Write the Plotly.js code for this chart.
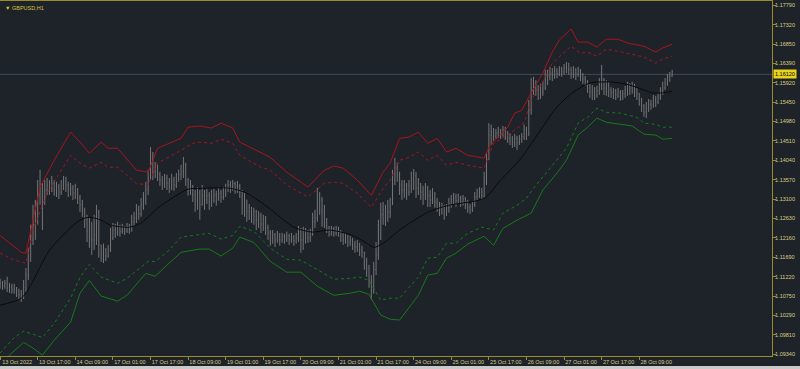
<!DOCTYPE html>
<html>
<head>
<meta charset="utf-8">
<script src="https://cdn.plot.ly/plotly-3.0.1.min.js"></script>
<style>html,body{margin:0;padding:0;background:#1e232a;}#chart{width:800px;height:369px;}</style>
</head>
<body>
<div id="chart"></div>
<script>
// ---- Data: GBPUSD H1, bar index 0..286 ----
const tickIdx = [0,16,32,48,64,80,96,112,128,144,160,176,192,208,224,240,256,272];
const tickText = ['13 Oct 2022','13 Oct 17:00','14 Oct 09:00','17 Oct 01:00','17 Oct 17:00','18 Oct 09:00','19 Oct 01:00','19 Oct 17:00','20 Oct 09:00','21 Oct 01:00','21 Oct 17:00','24 Oct 09:00','25 Oct 01:00','25 Oct 17:00','26 Oct 09:00','27 Oct 01:00','27 Oct 17:00','28 Oct 09:00'];
const priceTicks = [1.1779,1.1732,1.1685,1.1639,1.1592,1.1545,1.1498,1.1451,1.1404,1.1357,1.1310,1.1263,1.1216,1.1169,1.1122,1.1075,1.1029,1.0981,1.0934];

const closes = [1.1105,1.1100,1.1107,1.1095,1.1097,1.1090,1.1093,1.1083,1.1078,1.1073,
1.1095,1.1126,1.1175,1.1211,1.1248,1.1272,1.1320,1.1337,1.1308,1.1332,
1.1344,1.1337,1.1349,1.1332,1.1339,1.1327,1.1342,1.1352,1.1344,1.1332,
1.1337,1.1325,1.1332,1.1313,1.1296,1.1284,1.1260,1.1231,1.1240,1.1211,
1.1223,1.1279,1.1199,1.1175,1.1187,1.1172,1.1187,1.1216,1.1235,1.1228,
1.1240,1.1231,1.1238,1.1233,1.1243,1.1238,1.1255,1.1264,1.1284,1.1274,
1.1296,1.1308,1.1332,1.1361,1.1405,1.1376,1.1385,1.1369,1.1356,1.1347,
1.1361,1.1349,1.1339,1.1356,1.1344,1.1361,1.1369,1.1376,1.1393,1.1356,
1.1332,1.1342,1.1320,1.1308,1.1325,1.1296,1.1320,1.1308,1.1318,1.1303,
1.1313,1.1320,1.1310,1.1323,1.1315,1.1327,1.1335,1.1344,1.1337,1.1347,
1.1335,1.1342,1.1327,1.1296,1.1308,1.1279,1.1289,1.1272,1.1279,1.1260,
1.1269,1.1250,1.1260,1.1240,1.1228,1.1216,1.1223,1.1211,1.1221,1.1211,
1.1219,1.1214,1.1221,1.1211,1.1219,1.1209,1.1216,1.1231,1.1211,1.1221,
1.1231,1.1216,1.1226,1.1255,1.1264,1.1296,1.1308,1.1279,1.1260,1.1240,
1.1233,1.1238,1.1228,1.1235,1.1231,1.1221,1.1211,1.1219,1.1206,1.1211,
1.1199,1.1194,1.1202,1.1187,1.1182,1.1158,1.1143,1.1114,1.1090,1.1139,
1.1175,1.1223,1.1272,1.1284,1.1264,1.1279,1.1296,1.1356,1.1385,1.1369,
1.1344,1.1332,1.1344,1.1327,1.1342,1.1356,1.1366,1.1337,1.1347,1.1327,
1.1320,1.1337,1.1318,1.1308,1.1323,1.1303,1.1294,1.1284,1.1291,1.1279,
1.1289,1.1298,1.1308,1.1315,1.1306,1.1313,1.1303,1.1310,1.1298,1.1289,
1.1284,1.1296,1.1315,1.1320,1.1327,1.1318,1.1356,1.1405,1.1465,1.1473,
1.1463,1.1470,1.1475,1.1465,1.1477,1.1468,1.1458,1.1453,1.1446,1.1456,
1.1448,1.1453,1.1461,1.1477,1.1468,1.1526,1.1579,1.1586,1.1574,1.1562,
1.1569,1.1579,1.1598,1.1608,1.1615,1.1608,1.1620,1.1613,1.1623,1.1618,
1.1627,1.1632,1.1623,1.1615,1.1623,1.1613,1.1620,1.1611,1.1601,1.1594,
1.1579,1.1569,1.1574,1.1562,1.1572,1.1586,1.1598,1.1579,1.1589,1.1574,
1.1567,1.1572,1.1562,1.1569,1.1560,1.1565,1.1574,1.1584,1.1579,1.1586,
1.1574,1.1565,1.1550,1.1536,1.1521,1.1531,1.1540,1.1536,1.1550,1.1545,
1.1557,1.1569,1.1579,1.1589,1.1598,1.1608,1.1612];

const opens = [1.1110,1.1105,1.1100,1.1107,1.1095,1.1097,1.1090,1.1093,1.1083,1.1078,
1.1073,1.1095,1.1126,1.1175,1.1211,1.1248,1.1272,1.1320,1.1337,1.1308,
1.1332,1.1344,1.1337,1.1349,1.1332,1.1339,1.1327,1.1342,1.1352,1.1344,
1.1332,1.1337,1.1325,1.1332,1.1313,1.1296,1.1284,1.1260,1.1231,1.1240,
1.1211,1.1223,1.1279,1.1199,1.1175,1.1187,1.1172,1.1187,1.1216,1.1235,
1.1228,1.1240,1.1231,1.1238,1.1233,1.1243,1.1238,1.1255,1.1264,1.1284,
1.1274,1.1296,1.1308,1.1332,1.1361,1.1405,1.1376,1.1385,1.1369,1.1356,
1.1347,1.1361,1.1349,1.1339,1.1356,1.1344,1.1361,1.1369,1.1376,1.1393,
1.1356,1.1332,1.1342,1.1320,1.1308,1.1325,1.1296,1.1320,1.1308,1.1318,
1.1303,1.1313,1.1320,1.1310,1.1323,1.1315,1.1327,1.1335,1.1344,1.1337,
1.1347,1.1335,1.1342,1.1327,1.1296,1.1308,1.1279,1.1289,1.1272,1.1279,
1.1260,1.1269,1.1250,1.1260,1.1240,1.1228,1.1216,1.1223,1.1211,1.1221,
1.1211,1.1219,1.1214,1.1221,1.1211,1.1219,1.1209,1.1216,1.1231,1.1211,
1.1221,1.1231,1.1216,1.1226,1.1255,1.1264,1.1296,1.1308,1.1279,1.1260,
1.1240,1.1233,1.1238,1.1228,1.1235,1.1231,1.1221,1.1211,1.1219,1.1206,
1.1211,1.1199,1.1194,1.1202,1.1187,1.1182,1.1158,1.1143,1.1114,1.1090,
1.1139,1.1175,1.1223,1.1272,1.1284,1.1264,1.1279,1.1296,1.1356,1.1385,
1.1369,1.1344,1.1332,1.1344,1.1327,1.1342,1.1356,1.1366,1.1337,1.1347,
1.1327,1.1320,1.1337,1.1318,1.1308,1.1323,1.1303,1.1294,1.1284,1.1291,
1.1279,1.1289,1.1298,1.1308,1.1315,1.1306,1.1313,1.1303,1.1310,1.1298,
1.1289,1.1284,1.1296,1.1315,1.1320,1.1327,1.1318,1.1356,1.1405,1.1465,
1.1473,1.1463,1.1470,1.1475,1.1465,1.1477,1.1468,1.1458,1.1453,1.1446,
1.1456,1.1448,1.1453,1.1461,1.1477,1.1468,1.1526,1.1579,1.1586,1.1574,
1.1562,1.1569,1.1579,1.1598,1.1608,1.1615,1.1608,1.1620,1.1613,1.1623,
1.1618,1.1627,1.1632,1.1623,1.1615,1.1623,1.1613,1.1620,1.1611,1.1601,
1.1594,1.1579,1.1569,1.1574,1.1562,1.1572,1.1586,1.1598,1.1579,1.1589,
1.1574,1.1567,1.1572,1.1562,1.1569,1.1560,1.1565,1.1574,1.1584,1.1579,
1.1586,1.1574,1.1565,1.1550,1.1536,1.1521,1.1531,1.1540,1.1536,1.1550,
1.1545,1.1557,1.1569,1.1579,1.1589,1.1598,1.1608];

const highs = [1.1117,1.1112,1.1114,1.1122,1.1107,1.1105,1.1105,1.1097,1.1093,1.1090,
1.1114,1.1143,1.1192,1.1248,1.1296,1.1308,1.1356,1.1381,1.1349,1.1356,
1.1361,1.1356,1.1366,1.1356,1.1352,1.1347,1.1356,1.1366,1.1364,1.1352,
1.1349,1.1344,1.1347,1.1337,1.1320,1.1308,1.1289,1.1272,1.1264,1.1255,
1.1272,1.1296,1.1284,1.1199,1.1202,1.1192,1.1199,1.1240,1.1252,1.1250,
1.1255,1.1248,1.1250,1.1245,1.1252,1.1250,1.1272,1.1279,1.1298,1.1294,
1.1313,1.1327,1.1352,1.1381,1.1436,1.1424,1.1400,1.1393,1.1376,1.1366,
1.1371,1.1369,1.1361,1.1371,1.1364,1.1373,1.1381,1.1393,1.1412,1.1398,
1.1361,1.1356,1.1344,1.1332,1.1339,1.1332,1.1344,1.1332,1.1335,1.1327,
1.1332,1.1335,1.1330,1.1337,1.1332,1.1339,1.1347,1.1356,1.1354,1.1356,
1.1352,1.1354,1.1347,1.1332,1.1327,1.1308,1.1298,1.1291,1.1289,1.1284,
1.1281,1.1277,1.1272,1.1269,1.1248,1.1235,1.1235,1.1228,1.1233,1.1228,
1.1228,1.1226,1.1231,1.1226,1.1228,1.1223,1.1228,1.1245,1.1240,1.1243,
1.1240,1.1235,1.1238,1.1277,1.1284,1.1337,1.1327,1.1315,1.1296,1.1264,
1.1245,1.1245,1.1243,1.1245,1.1243,1.1235,1.1228,1.1228,1.1223,1.1221,
1.1216,1.1209,1.1211,1.1204,1.1197,1.1182,1.1168,1.1151,1.1126,1.1158,
1.1206,1.1260,1.1301,1.1303,1.1296,1.1308,1.1313,1.1381,1.1410,1.1398,
1.1376,1.1356,1.1356,1.1349,1.1356,1.1376,1.1383,1.1376,1.1361,1.1349,
1.1342,1.1349,1.1342,1.1332,1.1337,1.1327,1.1313,1.1303,1.1301,1.1296,
1.1298,1.1313,1.1320,1.1325,1.1323,1.1323,1.1318,1.1320,1.1315,1.1308,
1.1298,1.1303,1.1327,1.1335,1.1339,1.1337,1.1376,1.1424,1.1494,1.1490,
1.1482,1.1480,1.1485,1.1480,1.1487,1.1485,1.1475,1.1470,1.1463,1.1468,
1.1463,1.1465,1.1470,1.1490,1.1485,1.1550,1.1603,1.1606,1.1598,1.1586,
1.1589,1.1594,1.1623,1.1623,1.1630,1.1627,1.1632,1.1627,1.1632,1.1630,
1.1637,1.1642,1.1640,1.1630,1.1632,1.1627,1.1630,1.1625,1.1615,1.1608,
1.1598,1.1589,1.1586,1.1581,1.1584,1.1603,1.1635,1.1603,1.1598,1.1594,
1.1581,1.1579,1.1577,1.1579,1.1574,1.1574,1.1584,1.1594,1.1591,1.1594,
1.1589,1.1579,1.1567,1.1555,1.1540,1.1545,1.1552,1.1550,1.1562,1.1560,
1.1567,1.1581,1.1594,1.1603,1.1613,1.1618,1.1623];

const lows = [1.1093,1.1090,1.1093,1.1085,1.1083,1.1081,1.1081,1.1073,1.1066,1.1061,
1.1068,1.1085,1.1114,1.1158,1.1199,1.1211,1.1248,1.1296,1.1235,1.1296,
1.1320,1.1320,1.1327,1.1318,1.1315,1.1310,1.1320,1.1332,1.1327,1.1315,
1.1318,1.1308,1.1310,1.1298,1.1279,1.1267,1.1240,1.1206,1.1192,1.1175,
1.1187,1.1199,1.1168,1.1158,1.1155,1.1160,1.1168,1.1182,1.1211,1.1216,
1.1221,1.1219,1.1226,1.1223,1.1228,1.1226,1.1231,1.1245,1.1252,1.1260,
1.1267,1.1284,1.1296,1.1320,1.1356,1.1356,1.1361,1.1354,1.1342,1.1332,
1.1337,1.1332,1.1325,1.1332,1.1330,1.1337,1.1352,1.1356,1.1361,1.1342,
1.1318,1.1320,1.1303,1.1279,1.1284,1.1260,1.1294,1.1284,1.1298,1.1284,
1.1291,1.1301,1.1294,1.1306,1.1301,1.1308,1.1315,1.1327,1.1325,1.1330,
1.1323,1.1325,1.1313,1.1272,1.1267,1.1255,1.1260,1.1252,1.1248,1.1235,
1.1240,1.1228,1.1233,1.1223,1.1211,1.1197,1.1202,1.1194,1.1204,1.1197,
1.1204,1.1202,1.1206,1.1199,1.1204,1.1197,1.1202,1.1206,1.1180,1.1187,
1.1202,1.1204,1.1206,1.1221,1.1240,1.1255,1.1272,1.1243,1.1240,1.1228,
1.1219,1.1221,1.1219,1.1221,1.1219,1.1206,1.1199,1.1202,1.1194,1.1197,
1.1187,1.1180,1.1182,1.1172,1.1168,1.1139,1.1122,1.1095,1.1066,1.1081,
1.1126,1.1163,1.1211,1.1248,1.1245,1.1255,1.1264,1.1296,1.1344,1.1352,
1.1320,1.1308,1.1313,1.1308,1.1318,1.1325,1.1332,1.1313,1.1320,1.1308,
1.1296,1.1308,1.1291,1.1291,1.1298,1.1289,1.1279,1.1269,1.1272,1.1260,
1.1269,1.1277,1.1289,1.1296,1.1291,1.1298,1.1291,1.1294,1.1286,1.1277,
1.1274,1.1279,1.1291,1.1308,1.1313,1.1308,1.1313,1.1344,1.1405,1.1441,
1.1451,1.1456,1.1458,1.1456,1.1461,1.1453,1.1446,1.1441,1.1434,1.1436,
1.1429,1.1441,1.1446,1.1453,1.1453,1.1463,1.1514,1.1562,1.1560,1.1550,
1.1552,1.1560,1.1574,1.1586,1.1598,1.1596,1.1601,1.1603,1.1608,1.1606,
1.1611,1.1615,1.1611,1.1601,1.1603,1.1598,1.1606,1.1596,1.1589,1.1584,
1.1567,1.1555,1.1550,1.1550,1.1555,1.1562,1.1574,1.1562,1.1560,1.1557,
1.1555,1.1552,1.1550,1.1555,1.1548,1.1550,1.1555,1.1560,1.1562,1.1565,
1.1557,1.1550,1.1536,1.1521,1.1509,1.1506,1.1521,1.1526,1.1531,1.1533,
1.1540,1.1550,1.1562,1.1574,1.1584,1.1594,1.1606];

// Moving average (black)
const maIdx = [0,9,13,21,29,34,38,43,47,55,60,67,74,80,85,98,105,114,125,133,140,150,156,159,163,170,182,191,206,213,221,230,237,244,251,261,268,274,278,282,286];
const maVal = [1.1053,1.1070,1.1101,1.1186,1.1235,1.1259,1.1266,1.1259,1.1247,1.1242,1.1252,1.1288,1.1315,1.1334,1.1336,1.1336,1.1324,1.1290,1.1242,1.1230,1.1235,1.1222,1.1203,1.1193,1.1203,1.1235,1.1278,1.1295,1.1312,1.1356,1.1404,1.1477,1.1533,1.1569,1.1591,1.1593,1.1586,1.1574,1.1567,1.1567,1.1571];

// Upper band, outer (red solid)
const upOuterIdx = [0,4,9,11,17,23,30,34,38,43,46,50,58,63,67,77,80,85,90,94,99,102,111,115,122,131,138,142,146,152,158,163,166,170,174,178,182,186,190,194,199,206,208,216,219,222,226,231,235,238,243,246,250,254,258,263,267,271,274,279,282,286];
const upOuterVal = [1.1222,1.1203,1.1181,1.1179,1.1339,1.1404,1.1472,1.1448,1.1421,1.1448,1.1433,1.1433,1.1380,1.1375,1.1433,1.1457,1.1484,1.1487,1.1482,1.1494,1.1482,1.1448,1.1421,1.1411,1.1375,1.1339,1.1380,1.1390,1.1385,1.1356,1.1319,1.1375,1.1397,1.1457,1.1460,1.1472,1.1445,1.1457,1.1424,1.1433,1.1416,1.1409,1.1436,1.1484,1.1518,1.1525,1.1567,1.1615,1.1666,1.1695,1.1722,1.1690,1.1690,1.1678,1.1697,1.1697,1.1688,1.1683,1.1680,1.1666,1.1676,1.1685];

// Upper band, inner (red dotted)
const upInnerIdx = [0,6,11,14,20,30,34,38,43,46,50,58,63,67,77,82,85,90,94,99,102,111,115,122,131,138,142,146,152,158,163,166,170,174,178,182,186,190,194,199,206,210,216,220,223,226,231,235,243,247,250,254,258,263,267,271,274,279,282,286];
const upInnerVal = [1.1179,1.1162,1.1155,1.1235,1.1324,1.1416,1.1397,1.1385,1.1399,1.1387,1.1387,1.1348,1.1344,1.1397,1.1428,1.1445,1.1448,1.1445,1.1455,1.1445,1.1416,1.1387,1.1380,1.1344,1.1315,1.1348,1.1351,1.1348,1.1324,1.1290,1.1336,1.1356,1.1404,1.1411,1.1424,1.1404,1.1416,1.1392,1.1399,1.1392,1.1385,1.1445,1.1465,1.1482,1.1494,1.1550,1.1593,1.1639,1.1680,1.1663,1.1666,1.1656,1.1673,1.1668,1.1663,1.1659,1.1654,1.1639,1.1649,1.1656];

// Lower band, inner (green dotted)
const loInnerIdx = [0,6,10,14,18,23,30,34,38,43,50,54,63,66,71,77,85,89,94,99,102,108,115,122,128,135,142,149,153,157,162,166,170,174,178,182,186,190,194,199,205,210,214,220,224,227,231,237,241,246,250,254,258,264,268,271,274,279,282,286];
const loInnerVal = [1.0937,1.0975,1.0990,1.0983,1.0975,1.1009,1.1070,1.1121,1.1152,1.1121,1.1106,1.1118,1.1159,1.1159,1.1181,1.1218,1.1225,1.1227,1.1213,1.1222,1.1244,1.1232,1.1191,1.1164,1.1162,1.1138,1.1116,1.1118,1.1121,1.1113,1.1065,1.1070,1.1070,1.1096,1.1121,1.1167,1.1169,1.1203,1.1203,1.1227,1.1242,1.1235,1.1276,1.1295,1.1312,1.1336,1.1363,1.1404,1.1433,1.1494,1.1508,1.1530,1.1520,1.1518,1.1513,1.1508,1.1494,1.1491,1.1484,1.1484];

// Lower band, outer (green solid)
const loOuterIdx = [0,4,10,14,18,23,30,34,38,43,50,54,62,66,71,77,85,89,94,99,102,108,115,122,128,135,142,149,153,157,162,166,170,174,178,182,186,190,194,199,206,210,214,220,226,231,237,241,246,250,254,258,264,269,274,279,282,286];
const loOuterVal = [1.0907,1.0932,1.0963,1.0949,1.0932,1.0968,1.1012,1.1082,1.1113,1.1075,1.1063,1.1077,1.1130,1.1123,1.1150,1.1181,1.1189,1.1189,1.1172,1.1191,1.1218,1.1205,1.1159,1.1133,1.1133,1.1099,1.1077,1.1082,1.1087,1.1079,1.1029,1.1019,1.1017,1.1048,1.1077,1.1126,1.1130,1.1167,1.1179,1.1201,1.1220,1.1198,1.1239,1.1259,1.1276,1.1332,1.1373,1.1404,1.1465,1.1484,1.1506,1.1496,1.1491,1.1487,1.1467,1.1465,1.1455,1.1457];

const symbolLabel = '\u25BC GBPUSD,H1';

// ---- Styles ----
const BG = '#1e232a';
const AX = '#9a8b2c';
const TXT = '#d8cd86';
const FONT = 'Liberation Sans, Arial, sans-serif';
const RED = '#a8141c';
const GREEN = '#157a18';
const BAR = '#767676';

const barIdx = closes.map((_, i) => i);
const lastClose = closes[closes.length - 1];

const traces = [
  {type:'scatter', mode:'lines', x:upOuterIdx, y:upOuterVal, line:{color:RED, width:1}, hoverinfo:'skip'},
  {type:'scatter', mode:'lines', x:upInnerIdx, y:upInnerVal, line:{color:RED, width:1, dash:'dot'}, hoverinfo:'skip'},
  {type:'scatter', mode:'lines', x:loInnerIdx, y:loInnerVal, line:{color:GREEN, width:1, dash:'dot'}, hoverinfo:'skip'},
  {type:'scatter', mode:'lines', x:loOuterIdx, y:loOuterVal, line:{color:GREEN, width:1}, hoverinfo:'skip'},
  {type:'scatter', mode:'lines', x:maIdx, y:maVal, line:{color:'#0a0a0a', width:1, shape:'spline', smoothing:0.8}, hoverinfo:'skip'},
  {type:'ohlc', x:barIdx, open:opens, high:highs, low:lows, close:closes,
   increasing:{line:{color:BAR, width:1}}, decreasing:{line:{color:BAR, width:1}},
   tickwidth:0.2, hoverinfo:'skip'}
];

const layout = {
  width:800, height:369,
  paper_bgcolor:BG, plot_bgcolor:BG,
  margin:{l:0, r:28, t:1, b:13},
  showlegend:false,
  hovermode:false,
  xaxis:{
    range:[-0.05, 328.5], showgrid:false, zeroline:false,
    showline:true, mirror:true, linecolor:AX, linewidth:1,
    ticks:'outside', ticklen:3, tickcolor:AX, tickwidth:1,
    tickmode:'array', tickvals:tickIdx, ticktext:tickText,
    tickfont:{family:FONT, size:5.5, color:TXT},
    ticklabelshift:17, ticklabelstandoff:-3,
    rangeslider:{visible:false}, fixedrange:true
  },
  yaxis:{
    side:'right', range:[1.0930, 1.17896], showgrid:false, zeroline:false,
    showline:true, linecolor:AX, linewidth:1,
    ticks:'outside', ticklen:3, tickcolor:AX, tickwidth:1,
    tickmode:'array', tickvals:priceTicks, tickformat:'.5f',
    tickfont:{family:FONT, size:5.5, color:TXT},
    ticklabelstandoff:-2, fixedrange:true
  },
  shapes:[
    {type:'line', xref:'paper', x0:0, x1:1, yref:'y', y0:lastClose, y1:lastClose,
     line:{color:'#3d4b5a', width:1}, layer:'below'},
    {type:'rect', xref:'paper', x0:-0.01, x1:1.05, yref:'paper', y0:-0.0285, y1:-0.045,
     fillcolor:'#c9c9c9', line:{width:0}}
  ],
  annotations:[
    {xref:'paper', yref:'paper', x:0, y:1, xanchor:'left', yanchor:'top', xshift:3, yshift:-2,
     text:symbolLabel, showarrow:false, font:{family:FONT, size:5.5, color:'#d6c23a'}},
    {xref:'paper', yref:'y', x:1, y:lastClose, xanchor:'left', yanchor:'middle', xshift:1,
     text:lastClose.toFixed(5), showarrow:false, bgcolor:'#e8d41c', borderpad:1,
     font:{family:FONT, size:5.5, color:'#000000'}}
  ]
};

Plotly.newPlot('chart', traces, layout, {displayModeBar:false, staticPlot:true});
</script>
</body>
</html>
